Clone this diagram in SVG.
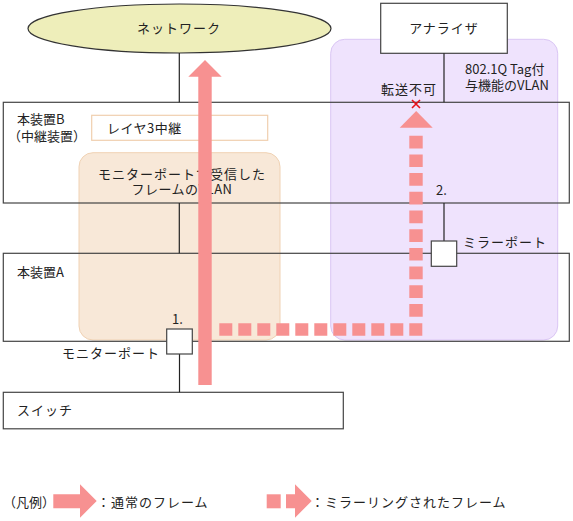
<svg xmlns="http://www.w3.org/2000/svg" width="573" height="521" viewBox="0 0 573 521">
<style>
text{font-family:"Noto Sans CJK JP","Noto Sans",sans-serif;font-size:13px;fill:#222;}
.box{fill:none;stroke:#444;stroke-width:1.2;}
.wbox{fill:#fff;stroke:#444;stroke-width:1.2;}
.ln{stroke:#222;stroke-width:1.2;fill:none;}
.arr{fill:#f79191;}
.c{text-anchor:middle;}
</style>
<rect width="573" height="521" fill="#fff"/>
<g id="region-monitor-vlan">
<rect x="79" y="152.7" width="201" height="187.3" rx="14" fill="#f8e8d8" stroke="#f0d2b4" stroke-width="1"/>
</g>
<g id="region-tag-vlan">
<rect x="330.7" y="39.3" width="227" height="300.7" rx="14" fill="#efe3fd" stroke="#dac6f4" stroke-width="1"/>
</g>
<g id="network">
<ellipse cx="179.5" cy="28.5" rx="151.5" ry="24.5" fill="#eeeeba" stroke="#333" stroke-width="1.2"/>
<text x="179" y="33" class="c" letter-spacing="1">ネットワーク</text>
</g>
<g id="analyzer">
<rect x="380.7" y="3.3" width="126.6" height="50" class="wbox"/>
<text x="444" y="33" class="c" letter-spacing="1">アナライザ</text>
</g>
<g id="deviceB">
<rect x="3.3" y="102.3" width="566" height="100.7" class="box"/>
<text x="17" y="124">本装置B</text>
<text x="8" y="141">（中継装置）</text>
</g>
<g id="layer3">
<rect x="91.7" y="115.3" width="176" height="25" fill="#fff" stroke="#f0cfae" stroke-width="1.2"/>
<text x="107" y="133" letter-spacing="0.5">レイヤ3中継</text>
</g>
<g id="deviceA">
<rect x="3.3" y="253.3" width="566" height="88" class="box"/>
<text x="17" y="277">本装置A</text>
</g>
<g id="switch">
<rect x="3.3" y="392.3" width="340" height="36.5" class="wbox"/>
<text x="17" y="415" letter-spacing="1">スイッチ</text>
</g>
<g id="connectors">
<line x1="179.3" y1="53" x2="179.3" y2="102.3" class="ln"/>
<line x1="179.3" y1="203" x2="179.3" y2="253.3" class="ln"/>
<line x1="179.5" y1="354" x2="179.5" y2="392.3" class="ln"/>
<line x1="444" y1="53.3" x2="444" y2="102.3" class="ln"/>
<line x1="444" y1="203" x2="444" y2="241" class="ln"/>
</g>
<g id="monitor-port">
<rect x="166.7" y="329" width="25.6" height="25" class="wbox"/>
<text x="172" y="324">1.</text>
<text x="160" y="358" text-anchor="end" letter-spacing="1">モニターポート</text>
</g>
<g id="mirror-port">
<rect x="431.3" y="241" width="25.4" height="25.3" class="wbox"/>
<text x="463" y="247" letter-spacing="1">ミラーポート</text>
<text x="436" y="195">2.</text>
</g>
<g id="labels">
<text x="182" y="179" class="c" letter-spacing="1">モニターポートで受信した</text>
<text x="182" y="194" class="c" letter-spacing="0.5">フレームのVLAN</text>
<text x="409" y="94" class="c" letter-spacing="1">転送不可</text>
<text x="465" y="74">802.1Q Tag付</text>
<text x="465" y="90">与機能のVLAN</text>
</g>
<g id="normal-frame-arrow">
<path class="arr" d="M198.3,385 V76.7 H188.3 L205,60 L221.7,76.7 H211.7 V385 Z"/>
</g>
<g id="mirror-frame-arrow">
<path d="M219.3,329.5 H422.7" stroke="#f79191" stroke-width="12.7" stroke-dasharray="13 6" fill="none"/>
<path d="M416,316.7 V135.5" stroke="#f79191" stroke-width="13.4" stroke-dasharray="12.7 6" fill="none"/>
<path class="arr" d="M399.7,127.7 L416.2,111 L432.7,127.7 Z"/>
<path d="M412,100 L420,108 M420,100 L412,108" stroke="#e8101a" stroke-width="1.6"/>
</g>
<g id="legend">
<text x="3" y="507">（凡例）</text>
<path class="arr" d="M53.3,494.3 H80 V484.3 L96.7,501 L80,517.7 V508.3 H53.3 Z"/>
<text x="97" y="507" letter-spacing="1">：通常のフレーム</text>
<rect x="266.7" y="494.3" width="14" height="14" class="arr"/>
<path class="arr" d="M286,494.3 H295 V484.3 L311.7,501 L295,517.7 V508.3 H286 Z"/>
<text x="311" y="507" letter-spacing="1">：ミラーリングされたフレーム</text>
</g>
</svg>
